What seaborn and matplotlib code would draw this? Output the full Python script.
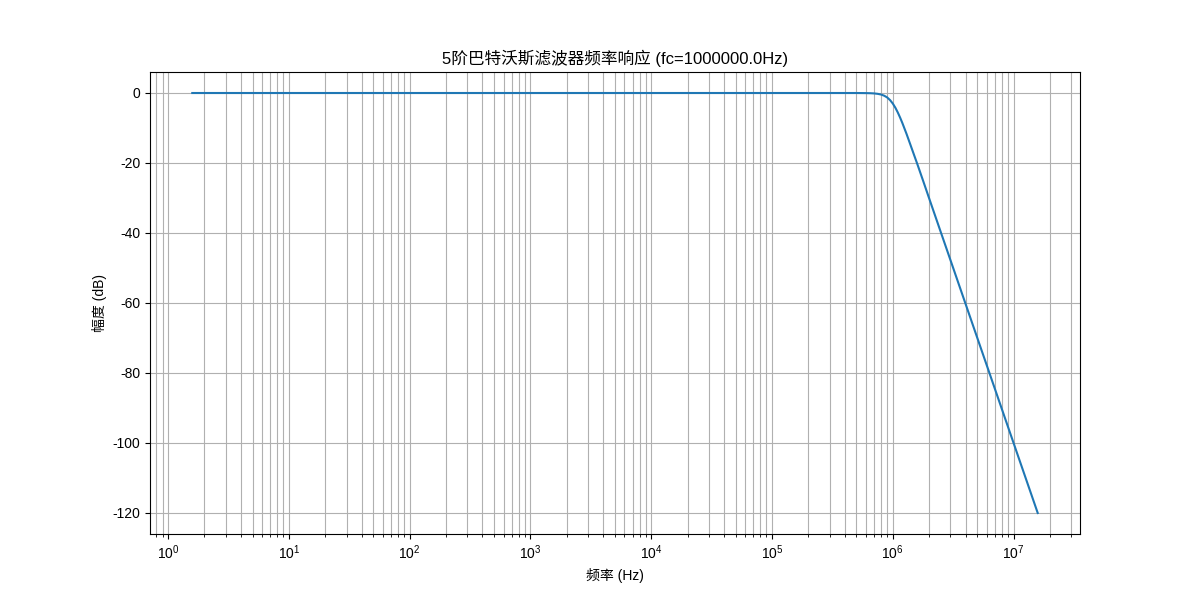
import matplotlib
matplotlib.use("Agg")
import matplotlib.pyplot as plt
import seaborn as sns
import pandas as pd

# Values
freq_hz = [1.585, 10, 100, 1e3, 1e4, 1e5, 3e5, 5e5, 6e5, 6.5e5, 7e5, 7.5e5, 8e5, 8.5e5,
           9e5, 9.5e5, 1.0e6, 1.05e6, 1.1e6, 1.15e6, 1.2e6, 1.3e6, 1.4e6, 1.5e6, 1.6e6,
           1.8e6, 2.0e6, 2.5e6, 3e6, 4e6, 5e6, 7e6, 1e7, 1.585e7]
mag_db = [0.0, 0.0, 0.0, 0.0, 0.0, 0.0, 0.0, -0.004, -0.03, -0.06, -0.12, -0.24, -0.44, -0.78,
          -1.29, -2.04, -3.01, -4.20, -5.56, -7.03, -8.57, -11.7, -14.8, -17.7, -20.4,
          -25.5, -30.1, -39.8, -47.7, -60.2, -69.9, -84.5, -100.0, -120.0]

title_text = "5阶巴特沃斯滤波器频率响应 (fc=1000000.0Hz)"
xlabel_text = "频率 (Hz)"
ylabel_text = "幅度 (dB)"

df = pd.DataFrame({"freq": freq_hz, "mag": mag_db})

plt.rcParams["font.family"] = ["Liberation Sans", "Noto Sans CJK SC", "DejaVu Sans"]
plt.rcParams["axes.unicode_minus"] = False
plt.rcParams["mathtext.fontset"] = "custom"
plt.rcParams["mathtext.rm"] = "Liberation Sans"
plt.rcParams["mathtext.it"] = "Liberation Sans:italic"
plt.rcParams["mathtext.bf"] = "Liberation Sans:bold"

fig, ax = plt.subplots(figsize=(12, 6), dpi=100)
sns.lineplot(data=df, x="freq", y="mag", ax=ax, color="#1f77b4", linewidth=1.5)
ax.set_xscale("log")
ax.set_title(title_text, fontsize=12)
ax.set_xlabel(xlabel_text)
ax.set_ylabel(ylabel_text)
ax.grid(True, which="both", color="#b0b0b0", linewidth=0.8)
fig.savefig("out.png", dpi=100)
